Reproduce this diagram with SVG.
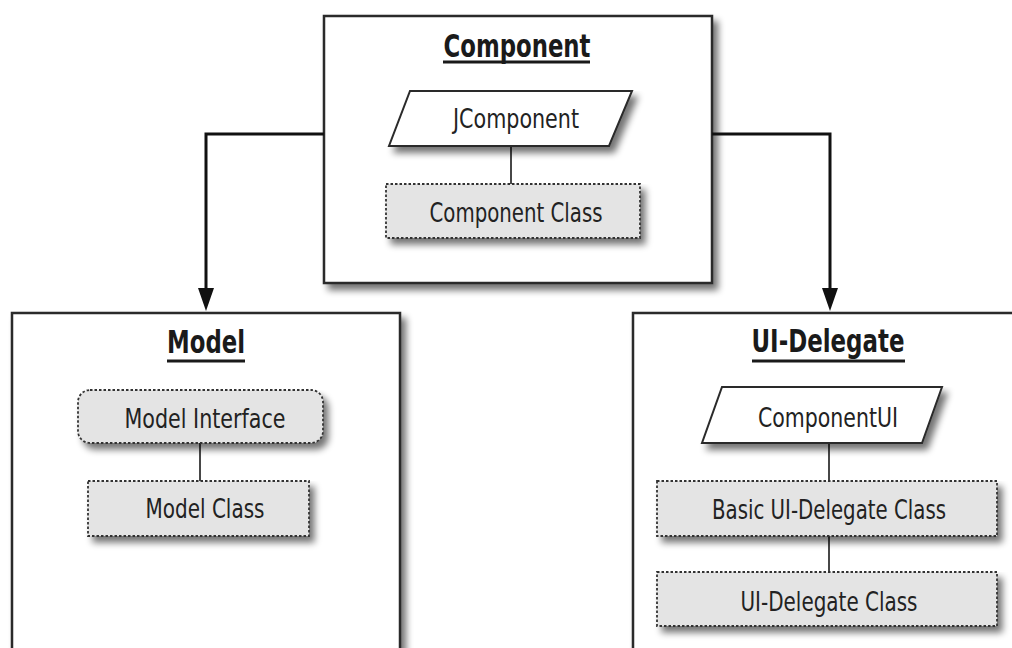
<svg xmlns="http://www.w3.org/2000/svg" width="1012" height="648" viewBox="0 0 1012 648">
<style>
.box{fill:#fff;stroke:#2a2a2a;stroke-width:2.5}
.para{fill:#fff;stroke:#2a2a2a;stroke-width:2}
.cls{fill:#e4e4e4;stroke:#333;stroke-width:1.8;stroke-dasharray:2.5 2}
.title{font-family:"Liberation Sans Narrow","DejaVu Sans Condensed","Liberation Sans",sans-serif;font-weight:bold;font-size:32px;fill:#1a1a1a;text-anchor:middle}
.lbl{font-family:"Liberation Sans Narrow","DejaVu Sans Condensed","Liberation Sans",sans-serif;font-size:27px;fill:#222;text-anchor:middle}
.ul{stroke:#1a1a1a;stroke-width:3}
.conn{fill:none;stroke:#111;stroke-width:3}
.link{stroke:#333;stroke-width:1.8}
.head{fill:#111}
</style>
<defs>
<filter id="sh" x="-10%" y="-10%" width="130%" height="140%">
<feGaussianBlur in="SourceAlpha" stdDeviation="3.5"/>
<feOffset dx="5" dy="6" result="b"/>
<feComponentTransfer><feFuncA type="linear" slope="0.55"/></feComponentTransfer>
<feMerge><feMergeNode/><feMergeNode in="SourceGraphic"/></feMerge>
</filter>
</defs>
<rect width="1012" height="648" fill="#fff"/>

<g id="component">
<rect class="box" x="324" y="16" width="388" height="267" filter="url(#sh)"/>
<text class="title" x="517" y="57" textLength="147" lengthAdjust="spacingAndGlyphs">Component</text>
<line class="ul" x1="443" y1="62" x2="590" y2="62"/>
</g>
<g id="model">
<rect class="box" x="12" y="313" width="388" height="400" filter="url(#sh)"/>
<text class="title" x="206" y="353" textLength="78" lengthAdjust="spacingAndGlyphs">Model</text>
<line class="ul" x1="167" y1="361" x2="245" y2="361"/>
</g>
<g id="ui-delegate">
<rect class="box" x="633" y="313" width="400" height="400" filter="url(#sh)"/>
<text class="title" x="828" y="352" textLength="153" lengthAdjust="spacingAndGlyphs">UI-Delegate</text>
<line class="ul" x1="752" y1="361" x2="905" y2="361"/>
</g>

<g id="connectors">
<path class="conn" d="M324,134 H206 V290"/>
<polygon class="head" points="198,288 214,288 206,311"/>
<path class="conn" d="M712,134 H830 V290"/>
<polygon class="head" points="822,288 838,288 830,311"/>
<line class="link" x1="511" y1="146" x2="511" y2="184"/>
<line class="link" x1="200" y1="443" x2="200" y2="481"/>
<line class="link" x1="829" y1="443" x2="829" y2="481"/>
<line class="link" x1="829" y1="536" x2="829" y2="572"/>
</g>

<g id="jcomponent">
<polygon class="para" points="410,91 632,91 609,146 389,146" filter="url(#sh)"/>
<text class="lbl" x="516" y="128" textLength="126" lengthAdjust="spacingAndGlyphs">JComponent</text>
</g>
<g id="component-class">
<rect class="cls" x="386" y="184" width="254" height="54" filter="url(#sh)"/>
<text class="lbl" x="516" y="222" textLength="173" lengthAdjust="spacingAndGlyphs">Component Class</text>
</g>
<g id="model-interface">
<rect class="cls" x="78" y="390" width="245" height="53" rx="12" filter="url(#sh)"/>
<text class="lbl" x="205" y="428" textLength="161" lengthAdjust="spacingAndGlyphs">Model Interface</text>
</g>
<g id="model-class">
<rect class="cls" x="88" y="481" width="221" height="55" filter="url(#sh)"/>
<text class="lbl" x="205" y="518" textLength="119" lengthAdjust="spacingAndGlyphs">Model Class</text>
</g>
<g id="componentui">
<polygon class="para" points="722,387 942,387 922,443 702,443" filter="url(#sh)"/>
<text class="lbl" x="828" y="427" textLength="140" lengthAdjust="spacingAndGlyphs">ComponentUI</text>
</g>
<g id="basic-ui-delegate-class">
<rect class="cls" x="657" y="481" width="340" height="55" filter="url(#sh)"/>
<text class="lbl" x="829" y="519" textLength="234" lengthAdjust="spacingAndGlyphs">Basic UI-Delegate Class</text>
</g>
<g id="ui-delegate-class">
<rect class="cls" x="657" y="572" width="340" height="54" filter="url(#sh)"/>
<text class="lbl" x="829" y="611" textLength="177" lengthAdjust="spacingAndGlyphs">UI-Delegate Class</text>
</g>
</svg>
